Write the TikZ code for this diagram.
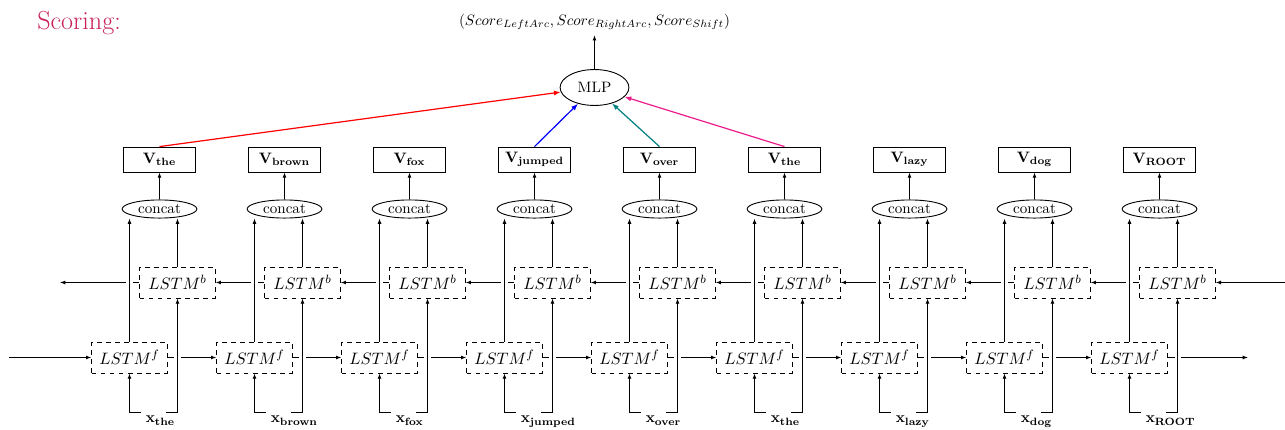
\documentclass[tikz,border=0pt]{standalone}
\usepackage{xcolor}
\usepackage{tikz}
\usetikzlibrary{arrows.meta,calc,positioning,shapes.geometric}
\definecolor{scorered}{HTML}{C8205A}
\definecolor{vpink}{HTML}{EC1C8C}
\tikzset{
  lstm/.style={draw,dashed,semithick,minimum width=50pt,minimum height=20.5pt,
    font=\fontsize{11}{13}\selectfont},
  vbox/.style={draw,semithick,minimum width=47.5pt,minimum height=16.5pt,inner sep=2pt},
  cat/.style={ellipse,draw,semithick,inner sep=0pt,minimum width=49.5pt,minimum height=12pt},
  mlpnode/.style={ellipse,draw,semithick,inner sep=5pt},
  xword/.style={text width=10pt,inner xsep=3.3pt,inner ysep=2.5pt,align=left},
  link/.style={-{Latex[length=3.5pt,width=2.6pt]},semithick},
  hop/.style={link,preaction={draw=white,line width=4pt,-,shorten <=2pt,shorten >=2pt}},
  pick/.style={-{Latex[length=4.5pt,width=3.4pt]},thick}
}
\begin{document}
\begin{tikzpicture}[x=0.2328mm,y=-0.2328mm]
  \useasboundingbox (0,0) rectangle (1285,429);
  \node[anchor=base west,font=\LARGE,text=scorered,inner sep=0pt] (title) at (37,30) {Scoring:};
  \node[mlpnode] (mlp) at (594.5,87.5) {MLP};
  \node (score) at (594.5,22) {$(Score_{LeftArc}, Score_{RightArc}, Score_{Shift})$};
  \draw[link,very thick] (mlp) -- (score);
  % one column per word
  \foreach \w [count=\i] in {the,brown,fox,jumped,over,the,lazy,dog,ROOT}{
    \pgfmathsetmacro\cx{34.5+125*\i}
    \node[cat] (c\i) at (\cx,209) {concat};
    \node[vbox] (v\i) at (\cx,159.5) {$\mathbf{V}_{\mathbf{\w}}$};
    \node[lstm] (b\i) at (\cx+18,282.5) {$LSTM^b$};
    \node[lstm] (f\i) at (\cx-30,357.5) {$LSTM^f$};
    \node[xword,anchor=north west] (x\i) at (\cx-19,412) {$\mathbf{x}_{\mathbf{\w}}$};
    \draw[link] (c\i) -- (v\i);
  }
  % recurrent chains
  \coordinate (fin) at (9,357.5);
  \coordinate (fout) at (1248,357.5);
  \coordinate (bin) at (1285,282.5);
  \coordinate (bout) at (60,282.5);
  \draw[link] (fin) -- (f1);
  \draw[link] (f9) -- (fout);
  \draw[link] (bin) -- (b9);
  \draw[link] (b1) -- (bout);
  \foreach \i [evaluate=\i as \k using int(\i+1)] in {1,...,8}{
    \draw[link] (f\i) -- (f\k);
    \draw[link] (b\k) -- (b\i);
  }
  \foreach \i in {1,...,9}{
    \draw[hop] (f\i.north) -- (f\i.north |- c\i.south);
    \draw[link] (b\i.north) -- (b\i.north |- c\i.south);
    \draw[link] (x\i.north west) -| (f\i.south);
    \draw[hop] (x\i.north east) -| (b\i.south);
  }
  % selected words into the scorer
  \draw[pick,red] (v1.north) -- (mlp);
  \draw[pick,blue] (v4.north) -- (mlp);
  \draw[pick,teal] (v5.north) -- (mlp);
  \draw[pick,vpink] (v6.north) -- (mlp);
\end{tikzpicture}
\end{document}
